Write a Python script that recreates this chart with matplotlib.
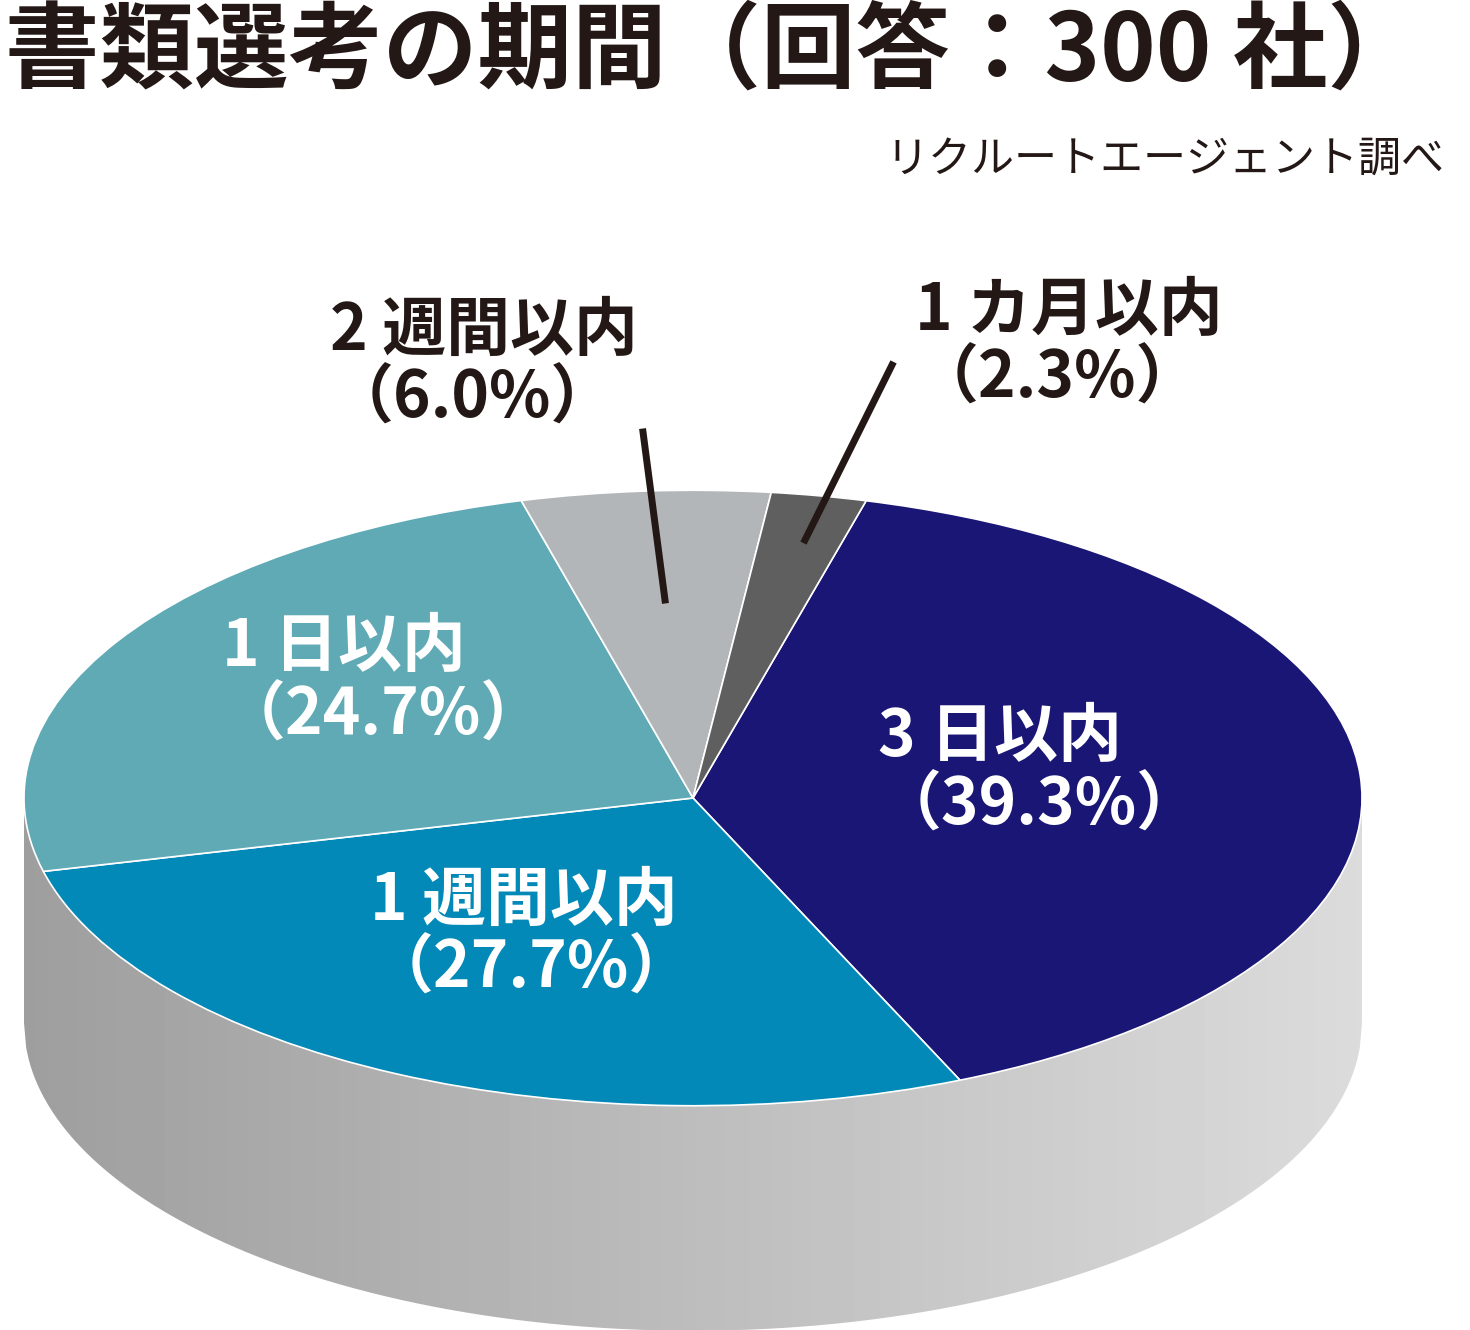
import numpy as np
import matplotlib
matplotlib.use("Agg")
import matplotlib.pyplot as plt
from matplotlib.transforms import Affine2D
from matplotlib.path import Path
from matplotlib.patches import PathPatch

plt.rcParams['font.family'] = ['Noto Sans CJK JP', 'DejaVu Sans']

categories = ["3 日以内", "1 週間以内", "1 日以内", "2 週間以内", "1 カ月以内"]
values = [39.3, 27.7, 24.7, 6.0, 2.3]
colors = ["#1a1675", "#0389b7", "#5faab5", "#b3b6b8", "#5f5f5f"]

W, H = 1470, 1330
fig = plt.figure(figsize=(14.7, 13.3), dpi=100)
ax = fig.add_axes([0, 0, 1, 1])
ax.set_xlim(0, W); ax.set_ylim(0, H); ax.axis('off')

cx, cy, rx, sq, depth = 693, H - 798, 669, 0.46, 225
ry = rx * sq

# side of cylinder
xs = np.linspace(cx - rx, cx + rx, 600)
top = cy - ry * np.sqrt(np.clip(1 - ((xs - cx) / rx) ** 2, 0, 1))
bot = top - depth
verts = list(zip(xs, top)) + list(zip(xs[::-1], bot[::-1]))
clip = PathPatch(Path(verts + [verts[0]]), facecolor='none', edgecolor='none')
ax.add_patch(clip)
grad = np.linspace(0.62, 0.86, 256)[None, :]
im = ax.imshow(grad, cmap='gray', vmin=0, vmax=1, extent=[cx - rx, cx + rx, cy - ry - depth, cy],
               aspect='auto', zorder=1)
im.set_clip_path(clip)
ax.set_xlim(0, W); ax.set_ylim(0, H)

wedges, _ = ax.pie(values, colors=colors, startangle=75, counterclock=False,
                   radius=rx, center=(0, 0), wedgeprops=dict(edgecolor='white', linewidth=1.2),
                   frame=True)
tr = Affine2D().scale(1, sq).translate(cx, cy) + ax.transData
for w in wedges:
    w.set_transform(tr); w.set_zorder(2)
ax.set_xlim(0, W); ax.set_ylim(0, H); ax.set_aspect('auto'); ax.axis('off')

tc = "#231815"
ax.text(5, H - 5, "書類選考の期間（回答：300 社）", fontsize=68, fontweight='bold', color=tc,
        ha='left', va='top')
ax.text(1445, H - 160, "リクルートエージェント調べ", fontsize=31, color=tc, ha='right', va='center')

labels = [
    ("2 週間以内\n（6.0%）", 330, 298, tc),
    ("1 カ月以内\n（2.3%）", 915, 278, tc),
    ("1 日以内\n（24.7%）", 222, 615, 'white'),
    ("3 日以内\n（39.3%）", 878, 705, 'white'),
    ("1 週間以内\n（27.7%）", 370, 868, 'white'),
]
for t, x, y, c in labels:
    ax.text(x, H - y, t, fontsize=46, fontweight='bold', color=c, ha='left', va='top',
            linespacing=1.05, zorder=5)

ax.plot([643, 665], [H - 432, H - 600], color=tc, lw=5, zorder=4)
ax.plot([892, 805], [H - 365, H - 540], color=tc, lw=5, zorder=4)

fig.savefig("out.png", dpi=100)
